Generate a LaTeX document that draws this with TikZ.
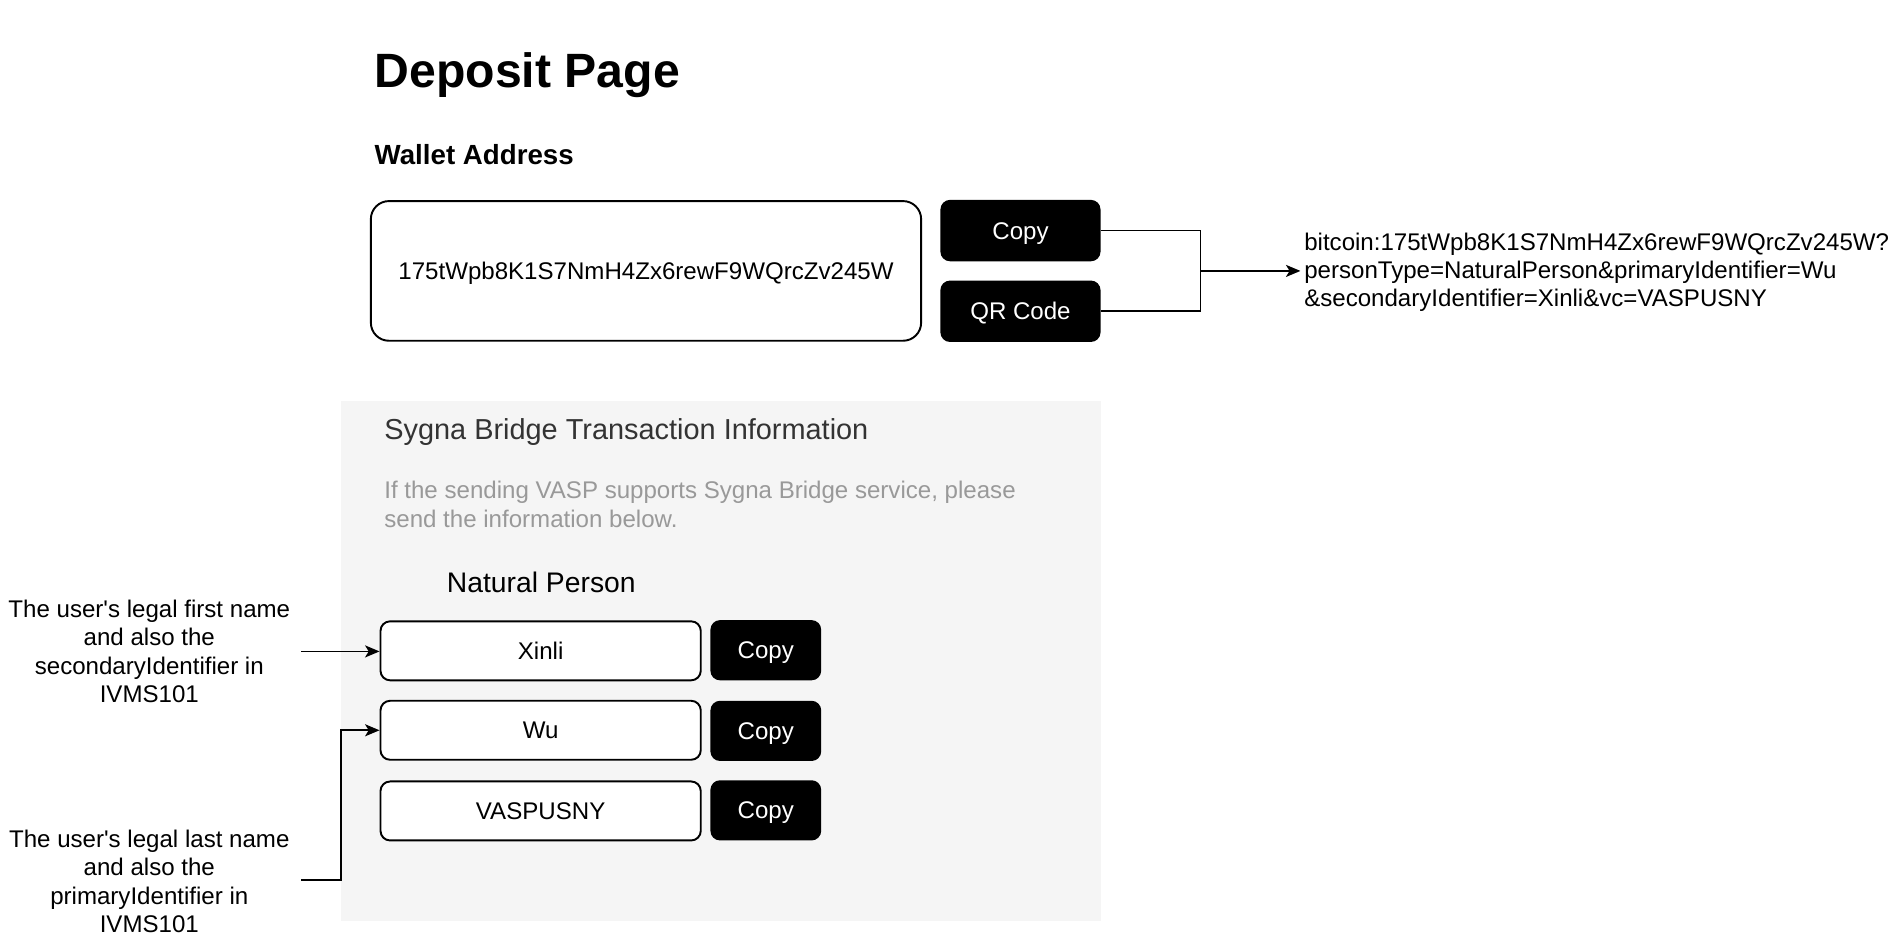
\documentclass[tikz,border=0pt]{standalone}
\usepackage{fontspec}
\setmainfont{Liberation Sans}
\newfontfamily\plainsans{Liberation Sans}
\usetikzlibrary{arrows.meta}
\definecolor{panelgray}{HTML}{F5F5F5}
\definecolor{titlegray}{HTML}{333333}
\definecolor{hintgray}{HTML}{999999}
\begin{document}
\begin{tikzpicture}[x=1pt,y=-1pt,
  hA/.style={text height=18pt,text depth=4pt},
  hB/.style={text height=21.2pt,text depth=4.7pt},
  hC/.style={text height=36pt,text depth=8pt},
  txt/.style={inner sep=0pt,font=\plainsans\fontsize{20}{23.5}\selectfont},
  addrbox/.style={draw,line width=1.6pt,rounded corners=15pt,minimum width=457pt,minimum height=116pt,inner sep=0pt,hA,font=\fontsize{20}{23.5}\selectfont},
  blackbtn/.style={fill=black,text=white,rounded corners=8pt,inner sep=0pt,hA,font=\fontsize{20}{23.5}\selectfont},
  field/.style={draw,fill=white,line width=1.6pt,rounded corners=8pt,minimum width=266pt,minimum height=49pt,inner sep=0pt,hA,font=\fontsize{20}{23.5}\selectfont},
  wire/.style={line width=1.4pt},
  arrowwire/.style={line width=1.4pt,-{Stealth[length=12pt,width=10pt,inset=3pt]}}
]
\useasboundingbox (0,0) rectangle (1568,779);

% titles
\node[anchor=west,inner sep=0pt,hC,font=\bfseries\fontsize{40}{46}\selectfont] (title) at (311,59) {Deposit Page};
\node[anchor=west,inner sep=0pt,hB,font=\bfseries\fontsize{23}{27}\selectfont] (wallet) at (311,128) {Wallet Address};

% address box and buttons
\node[addrbox] (addr) at (536.5,225) {175tWpb8K1S7NmH4Zx6rewF9WQrcZv245W};
\node[blackbtn,minimum width=133pt,minimum height=51pt] (copy) at (847.5,191.5) {Copy};
\node[blackbtn,minimum width=133pt,minimum height=51pt] (qr) at (847.5,258.5) {QR Code};

\node[txt,anchor=west,align=left,inner xsep=3pt] (uri) at (1080,226) {bitcoin:175tWpb8K1S7NmH4Zx6rewF9WQrcZv245W?\\personType=NaturalPerson\&primaryIdentifier=Wu\\\&secondaryIdentifier=Xinli\&vc=VASPUSNY};
\coordinate (join) at (997,225);
\draw[wire] (copy.east) -| (join);
\draw[wire] (qr.east) -| (join);
\draw[arrowwire] (join) -- (join -| uri.west);

% panel
\fill[panelgray] (283,333) rectangle (914,765);
\node[anchor=west,inner sep=0pt,text height=21.6pt,text depth=4.8pt,text=titlegray,font=\fontsize{24}{28}\selectfont] (sygna) at (319,357) {Sygna Bridge Transaction Information};
\node[anchor=west,inner sep=0pt,align=left,text=hintgray,font=\fontsize{20}{23.5}\selectfont] (hint) at (319,419) {If the sending VASP supports Sygna Bridge service, please\\send the information below.};
\node[anchor=west,inner sep=0pt,hB,font=\fontsize{23.5}{28}\selectfont] (natural) at (371,484) {Natural Person};

\node[field] (xinli) at (449,540.5) {Xinli};
\node[field] (wu) at (449,606.5) {Wu};
\node[field] (vasp) at (449,673.5) {VASPUSNY};
\node[blackbtn,minimum width=92pt,minimum height=50pt] (copy1) at (636,540) {Copy};
\node[blackbtn,minimum width=92pt,minimum height=50pt] (copy2) at (636,607) {Copy};
\node[blackbtn,minimum width=92pt,minimum height=50pt] (copy3) at (636,673) {Copy};

% annotations
\node[txt,align=center] (note1) at (124,541) {The user's legal first name\\and also the\\secondaryIdentifier in\\IVMS101};
\node[txt,align=center] (note2) at (124,732) {The user's legal last name\\and also the\\primaryIdentifier in\\IVMS101};
\coordinate (n1) at (250,541);
\coordinate (n2) at (250,731);
\draw[arrowwire] (n1) -- (n1 -| xinli.west);
\draw[arrowwire] (n2) -- ++(33,0) |- (wu.west);
\end{tikzpicture}
\end{document}
